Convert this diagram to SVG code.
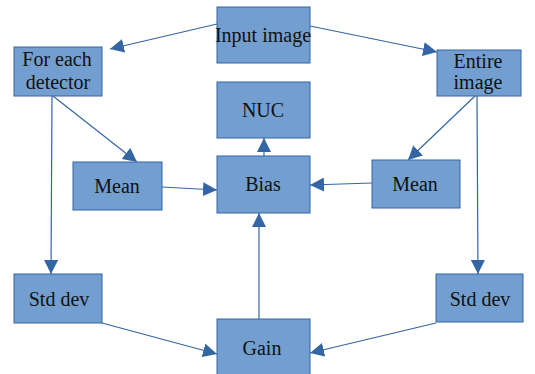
<svg xmlns="http://www.w3.org/2000/svg" width="535" height="374" viewBox="0 0 535 374">
<style>
.box{fill:#729fcf;stroke:#3465a4;stroke-width:1}
.t{font-family:'Liberation Serif','DejaVu Serif',serif;font-size:20px;fill:#111;text-anchor:middle}
.c{stroke:#3465a4;stroke-width:1.2;fill:none;marker-end:url(#ah)}
</style>
<defs>
<marker id="ah" markerUnits="userSpaceOnUse" markerWidth="14" markerHeight="14" viewBox="0 0 14 14" refX="14" refY="7" orient="auto">
<path d="M0,0 L14,7 L0,14 Z" fill="#3465a4"/>
</marker>
</defs>
<rect width="535" height="374" fill="#fff"/>
<g id="connectors">
<line class="c" x1="217" y1="24" x2="110" y2="49"/>
<line class="c" x1="310" y1="26" x2="437" y2="52"/>
<line class="c" x1="53" y1="96" x2="137" y2="162"/>
<line class="c" x1="52" y1="96" x2="51" y2="274"/>
<line class="c" x1="475" y1="96" x2="408" y2="160"/>
<line class="c" x1="477" y1="96" x2="478" y2="274"/>
<line class="c" x1="162" y1="187" x2="217" y2="190"/>
<line class="c" x1="372" y1="183" x2="310" y2="185"/>
<line class="c" x1="264" y1="156" x2="264" y2="138"/>
<line class="c" x1="259" y1="319" x2="259" y2="213"/>
<line class="c" x1="102" y1="323" x2="217" y2="354"/>
<line class="c" x1="436" y1="323" x2="310" y2="353"/>
</g>
<g id="input"><rect class="box" x="217" y="7" width="93" height="56"/><text class="t" x="263" y="42">Input image</text></g>
<g id="foreach"><rect class="box" x="14" y="47" width="88" height="49"/><text class="t" x="57" y="66">For each</text><text class="t" x="58" y="89">detector</text></g>
<g id="entire"><rect class="box" x="437" y="50" width="84" height="46"/><text class="t" x="478" y="68">Entire</text><text class="t" x="478" y="89">image</text></g>
<g id="nuc"><rect class="box" x="217" y="82" width="93" height="56"/><text class="t" x="263" y="117">NUC</text></g>
<g id="bias"><rect class="box" x="217" y="156" width="93" height="57"/><text class="t" x="263" y="191">Bias</text></g>
<g id="meanL"><rect class="box" x="73" y="162" width="89" height="48"/><text class="t" x="117" y="193">Mean</text></g>
<g id="meanR"><rect class="box" x="372" y="160" width="88" height="48"/><text class="t" x="415" y="191">Mean</text></g>
<g id="stdL"><rect class="box" x="14" y="274" width="88" height="49"/><text class="t" x="59" y="306">Std dev</text></g>
<g id="stdR"><rect class="box" x="436" y="274" width="87" height="48"/><text class="t" x="480" y="306">Std dev</text></g>
<g id="gain"><rect class="box" x="217" y="319" width="93" height="57"/><text class="t" x="262" y="355">Gain</text></g>
</svg>
